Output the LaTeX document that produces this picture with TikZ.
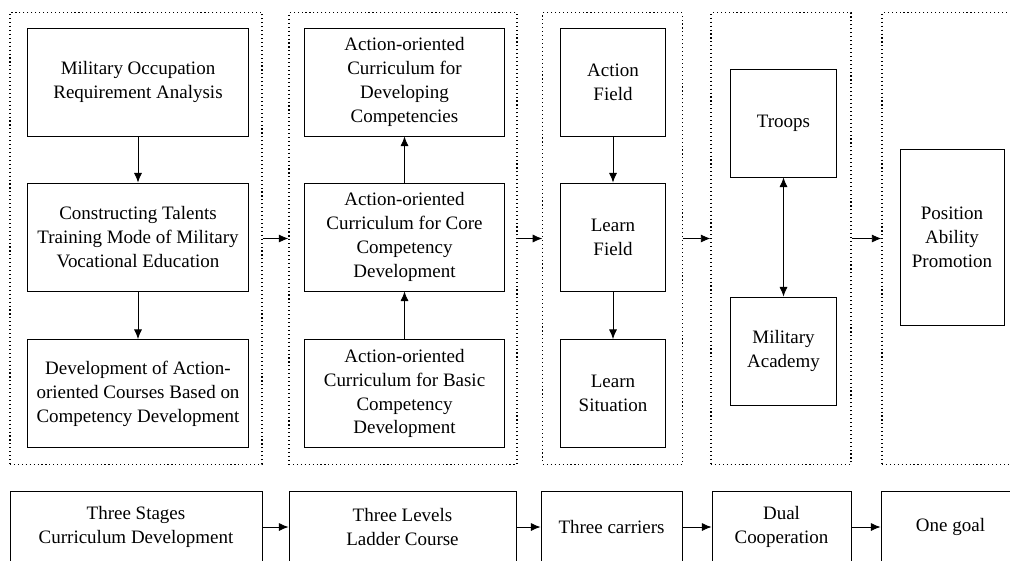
\documentclass[tikz,border=0pt]{standalone}
\usepackage{fontspec}
\setmainfont{Liberation Serif}
\newfontfamily\boxfont{Liberation Serif}
\usepackage{tikz}
\usetikzlibrary{arrows,arrows.meta}

\tikzset{
  box/.style={draw, line width=0.6pt, align=center, inner sep=2pt,
    font=\boxfont\fontsize{13.5}{17}\selectfont},
  frame/.style={draw, dotted, line width=0.8pt, minimum height=11.28cm},
  goal/.style={box, minimum height=1.8cm},
}

\begin{document}
\begin{tikzpicture}[x=0.025cm,y=-0.025cm,->,>={Latex[length=2.4mm,width=2mm]},line width=0.6pt]
\path[use as bounding box, clip] (0,0) rectangle (1010,560);

% dotted frames
\node[frame, minimum width=6.3cm] (f1) at (136,238.5) {};
\node[frame, minimum width=5.7cm] (f2) at (403,238.5) {};
\node[frame, minimum width=3.48cm] (f3) at (612.5,238.5) {};
\node[frame, minimum width=3.5cm] (f4) at (781,238.5) {};
\node[frame, minimum width=3.45cm] (f5) at (951,238.5) {};

% three stages
\node[box, minimum width=5.53cm, minimum height=2.7cm] (req) at (138,82) {Military Occupation\\Requirement Analysis};
\node[box, minimum width=5.53cm, minimum height=2.7cm] (mode) at (138,237) {Constructing Talents\\Training Mode of Military\\Vocational Education};
\node[box, minimum width=5.53cm, minimum height=2.7cm] (dev) at (138,393.5) {Development of Action-\\oriented Courses Based on\\Competency Development};

% three levels
\node[box, minimum width=4.98cm, minimum height=2.7cm] (top) at (404.5,82) {Action-oriented\\Curriculum for\\Developing\\Competencies};
\node[box, minimum width=4.98cm, minimum height=2.7cm] (core) at (404.5,237) {Action-oriented\\Curriculum for Core\\Competency\\Development};
\node[box, minimum width=4.98cm, minimum height=2.7cm] (basic) at (404.5,393.5) {Action-oriented\\Curriculum for Basic\\Competency\\Development};

% three carriers
\node[box, minimum width=2.63cm, minimum height=2.7cm] (afield) at (613,82) {Action\\Field};
\node[box, minimum width=2.63cm, minimum height=2.7cm] (lfield) at (613,237) {Learn\\Field};
\node[box, minimum width=2.63cm, minimum height=2.7cm] (lsit) at (613,393.5) {Learn\\Situation};

% dual cooperation
\node[box, minimum width=2.63cm, minimum height=2.7cm] (troops) at (783.5,123) {Troops};
\node[box, minimum width=2.63cm, minimum height=2.7cm] (acad) at (783.5,351) {Military\\Academy};

% one goal
\node[box, minimum width=2.6cm, minimum height=4.4cm] (pap) at (952,237) {Position\\Ability\\Promotion};

% bottom row
\node[goal, minimum width=6.3cm] (b1) at (136,527) {Three Stages\\Curriculum Development};
\node[goal, minimum width=5.675cm] (b2) at (402.5,527) {Three Levels\\Ladder Course};
\node[goal, minimum width=3.525cm] (b3) at (611.5,527) {Three carriers};
\node[goal, minimum width=3.475cm] (b4) at (781.5,527) {Dual\\Cooperation};
\node[goal, minimum width=3.475cm] (b5) at (950.5,527) {One goal};

\path
(req) edge (mode)
(mode) edge (dev)
(basic) edge (core)
(core) edge (top)
(afield) edge (lfield)
(lfield) edge (lsit)
(troops) edge[<->] (acad)
(f1) edge (f2)
(f2) edge (f3)
(f3) edge (f4)
(f4) edge (f5)
(b1) edge (b2)
(b2) edge (b3)
(b3) edge (b4)
(b4) edge (b5);
\end{tikzpicture}
\end{document}
